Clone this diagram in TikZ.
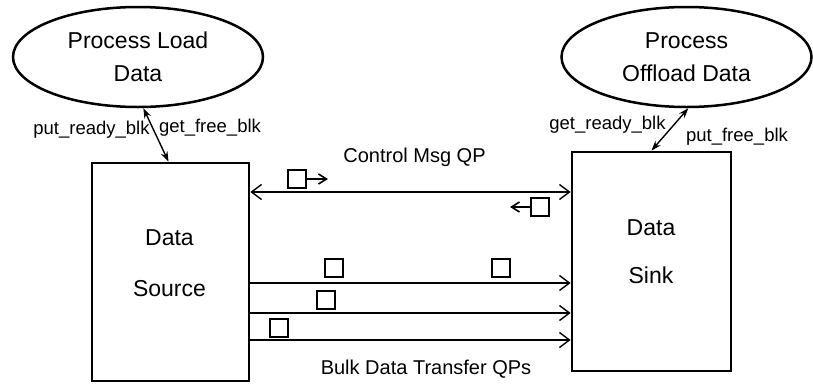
\documentclass[tikz,border=0pt]{standalone}
\usepackage{fontspec}
\setmainfont{Liberation Sans}
\usetikzlibrary{arrows.meta,shapes.geometric}

\tikzset{
  proc/.style={draw, ellipse, line width=2.5pt, minimum width=250pt, minimum height=100pt,
               inner sep=0pt, align=center, font=\fontsize{23}{33}\selectfont},
  endpoint/.style={draw, rectangle, line width=2.8pt, inner sep=0pt},
  bigtxt/.style={anchor=base, inner sep=0pt, font=\fontsize{23}{27}\selectfont},
  lbl/.style={anchor=base, inner sep=0pt, font=\fontsize{18.5}{22}\selectfont},
  qplbl/.style={anchor=base, inner sep=0pt, font=\fontsize{20}{24}\selectfont},
  pkt/.style={draw, rectangle, line width=2pt, minimum size=18pt, inner sep=0pt},
  link/.style={line width=1.4pt, {Stealth[length=10pt,width=7pt]}-{Stealth[length=10pt,width=7pt]}},
  qp/.style={line width=1.4pt, -{Straight Barb[length=10pt,width=15pt,line width=1.4pt]}},
  ctrlqp/.style={line width=1.4pt, {Straight Barb[length=10pt,width=15pt,line width=1.4pt]}-{Straight Barb[length=10pt,width=15pt,line width=1.4pt]}},
  msg/.style={line width=1.6pt, -{Straight Barb[length=8pt,width=10pt,line width=1.6pt]}}
}

\begin{document}
\begin{tikzpicture}[x=1pt,y=-1pt]
\useasboundingbox (0,0) rectangle (813,383);

% processing stages
\node[proc] (lp) at (138,57) {Process Load\\Data};
\node[proc] (rp) at (686.5,57) {Process\\Offload Data};

% data endpoints
\node[endpoint, minimum width=157pt, minimum height=218pt] (src) at (170.5,272) {};
\node[endpoint, minimum width=159pt, minimum height=219pt] (snk) at (651.5,261.5) {};

\node[bigtxt] (srcA) at (169.5,245) {Data};
\node[bigtxt] (srcB) at (169.5,296) {Source};
\node[bigtxt] (snkA) at (651,235) {Data};
\node[bigtxt] (snkB) at (651,283) {Sink};

% block exchange with the processing stages
\draw[link] (lp.-84) -- ([xshift=-2pt]src.north);
\draw[link] (rp.-88) -- (snk.north);
\node[lbl] (l1) at (91.5,134) {put\_ready\_blk};
\node[lbl] (l2) at (210,132) {get\_free\_blk};
\node[lbl] (l3) at (607.5,129) {get\_ready\_blk};
\node[lbl] (l4) at (737,141) {put\_free\_blk};

% control queue pair
\coordinate (yc) at (0,192);
\draw[ctrlqp] (src.east |- yc) -- (snk.west |- yc);
\node[qplbl] (cl) at (414.5,162) {Control Msg QP};
\node[pkt] (c1) at (297,179) {};
\coordinate (c1t) at (328,179);
\draw[msg] (c1.east) -- (c1t);
\node[pkt] (c2) at (540,207) {};
\coordinate (c2t) at (510,207);
\draw[msg] (c2.west) -- (c2t);

% bulk transfer queue pairs
\coordinate (y1) at (0,283);
\coordinate (y2) at (0,313);
\coordinate (y3) at (0,340);
\draw[qp] (src.east |- y1) -- (snk.west |- y1);
\draw[qp] (src.east |- y2) -- (snk.west |- y2);
\draw[qp] (src.east |- y3) -- (snk.west |- y3);
\node[pkt] (b1) at (333.5,268) {};
\node[pkt] (b2) at (501,268) {};
\node[pkt] (b3) at (326,300) {};
\node[pkt] (b4) at (279,328) {};
\node[qplbl] (bl) at (426,374) {Bulk Data Transfer QPs};
\end{tikzpicture}
\end{document}
